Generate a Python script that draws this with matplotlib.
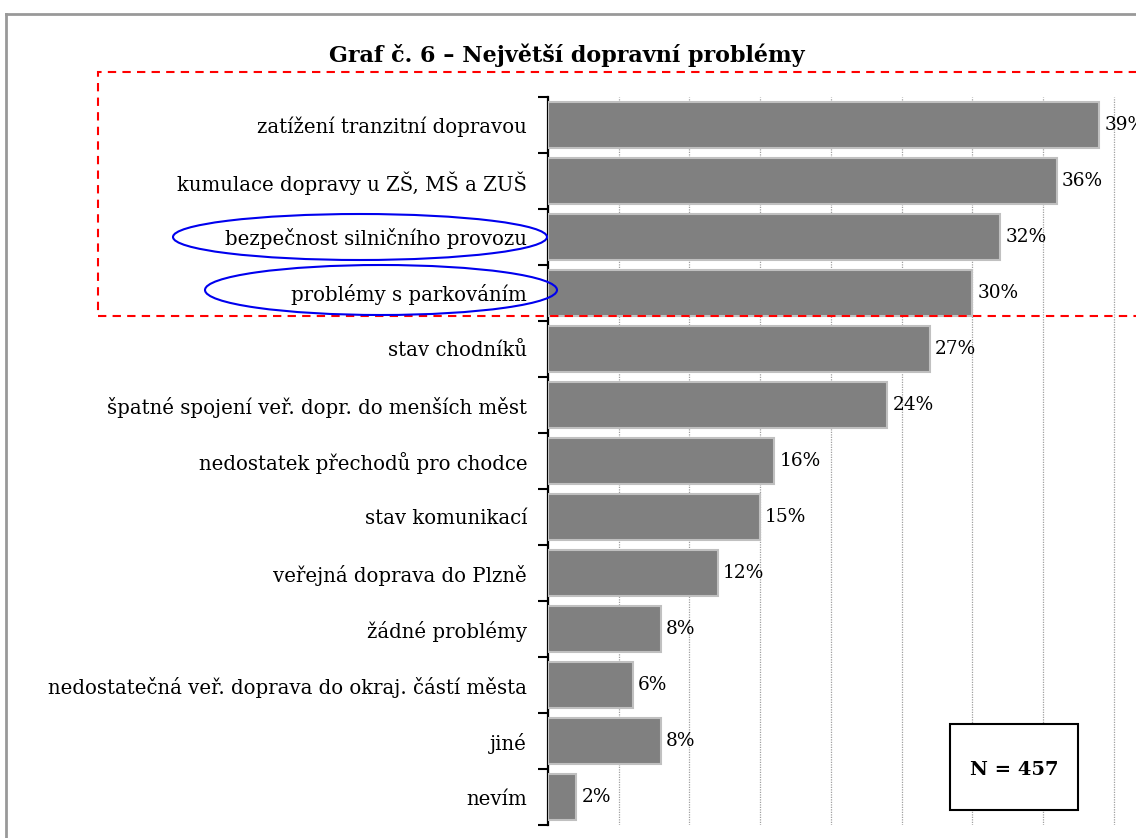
import matplotlib
matplotlib.use("Agg")
import matplotlib.pyplot as plt
from matplotlib.patches import Rectangle, Ellipse
from matplotlib.lines import Line2D
from matplotlib.ticker import FixedLocator, MultipleLocator, NullFormatter

categories = [
    "zatížení tranzitní dopravou",
    "kumulace dopravy u ZŠ, MŠ a ZUŠ",
    "bezpečnost silničního provozu",
    "problémy s parkováním",
    "stav chodníků",
    "špatné spojení veř. dopr. do menších měst",
    "nedostatek přechodů pro chodce",
    "stav komunikací",
    "veřejná doprava do Plzně",
    "žádné problémy",
    "nedostatečná veř. doprava do okraj. částí města",
    "jiné",
    "nevím",
]
values = [39, 36, 32, 30, 27, 24, 16, 15, 12, 8, 6, 8, 2]
title = "Graf č. 6 – Největší dopravní problémy"
n_text = "N = 457"

W, H = 1136, 838
FONT = "DejaVu Serif"
plt.rcParams["font.family"] = [FONT]

fig = plt.figure(figsize=(W / 100, H / 100), dpi=100)

def fx(px):
    return px / W

def fy(py):
    return 1 - py / H

# axes placement (pixels, top-left origin)
ax_left, ax_top, ax_bottom = 548, 97, 825
xmax = 45
px_per_unit = 14.14
ax_w = xmax * px_per_unit
ax = fig.add_axes([fx(ax_left), fy(ax_bottom), ax_w / W, (ax_bottom - ax_top) / H])

n = len(categories)
ypos = list(range(n))
ax.barh(ypos, values, height=0.82, color="#808080", edgecolor="#c0c0c0",
        linewidth=1.5, zorder=3)
ax.set_ylim(n - 0.5, -0.5)
ax.set_xlim(0, xmax)

for y, v in zip(ypos, values):
    ax.annotate(f"{v}%", xy=(v, y), xytext=(5, 0), textcoords="offset pixels",
                va="center", ha="left", fontsize=13.3, color="#000000",
                annotation_clip=False)

# gridlines
ax.xaxis.set_major_locator(MultipleLocator(5))
ax.grid(axis="x", color="#a0a0a0", linestyle=(0, (1, 1)), linewidth=0.9, zorder=0)
ax.tick_params(axis="x", length=0, labelbottom=False)

# y ticks: boundaries as major ticks, labels on minor
ax.yaxis.set_major_locator(FixedLocator([k - 0.5 for k in range(n + 1)]))
ax.yaxis.set_major_formatter(NullFormatter())
ax.yaxis.set_minor_locator(FixedLocator(ypos))
ax.set_yticklabels(categories, minor=True)
ax.tick_params(axis="y", which="major", length=7, width=1.5, color="black", direction="out")
ax.tick_params(axis="y", which="minor", length=0, pad=15, labelsize=14.2)

for s in ["top", "right", "bottom"]:
    ax.spines[s].set_visible(False)
ax.spines["left"].set_linewidth(1.6)
ax.spines["left"].set_color("black")

# title
fig.text(fx(567), fy(55), title, ha="center", va="center", fontsize=16,
         fontweight="bold")

# gray page frame
fig.add_artist(Line2D([fx(6), fx(W + 5)], [fy(14), fy(14)], color="#999999",
                      linewidth=2, transform=fig.transFigure))
fig.add_artist(Line2D([fx(6), fx(6)], [fy(14), fy(H + 5)], color="#999999",
                      linewidth=2, transform=fig.transFigure))

# red dashed rectangle
fig.add_artist(Rectangle((fx(98), fy(316)), fx(1200) - fx(98), fy(72) - fy(316),
                         fill=False, edgecolor="red", linewidth=1.5,
                         linestyle=(0, (4, 3)), transform=fig.transFigure, zorder=10))

# blue ellipses
fig.add_artist(Ellipse((fx(360), fy(237)), fx(374), 46 / H, fill=False,
                       edgecolor="#0000ee", linewidth=1.5,
                       transform=fig.transFigure, zorder=10))
fig.add_artist(Ellipse((fx(381), fy(290)), fx(352), 50 / H, fill=False,
                       edgecolor="#0000ee", linewidth=1.5,
                       transform=fig.transFigure, zorder=10))

# N box
fig.add_artist(Rectangle((fx(950), fy(810)), fx(128), 86 / H, facecolor="white",
                         edgecolor="black", linewidth=1.5,
                         transform=fig.transFigure, zorder=10))
fig.text(fx(1014), fy(770), n_text, ha="center", va="center", fontsize=14,
         fontweight="bold", zorder=11)

fig.savefig("out.png", dpi=100)
